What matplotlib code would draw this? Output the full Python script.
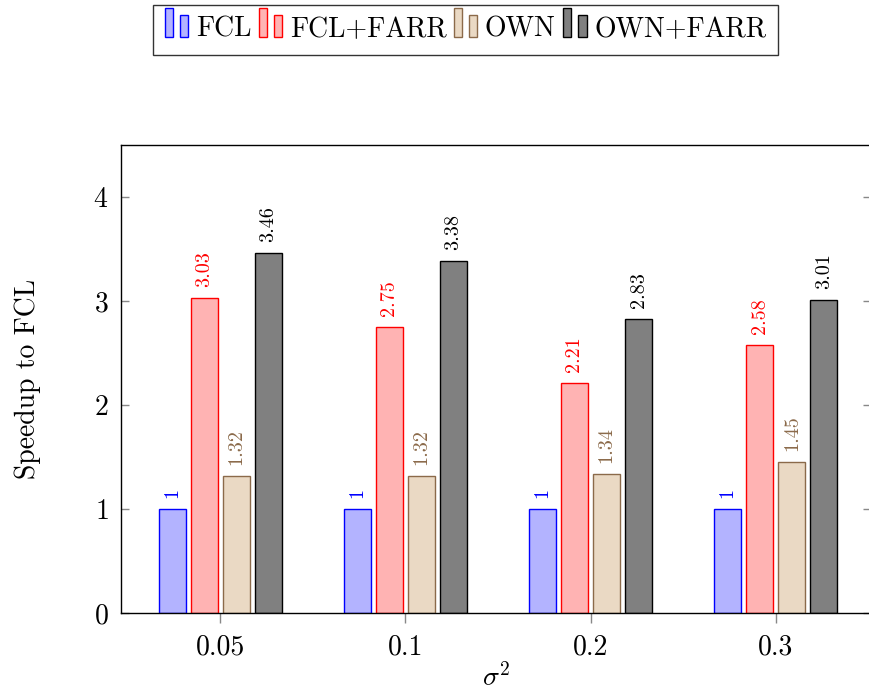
import numpy as np
import matplotlib
matplotlib.use("Agg")
import matplotlib.pyplot as plt
from matplotlib.patches import Rectangle
from matplotlib.legend_handler import HandlerBase

plt.rcParams['font.family'] = 'serif'
plt.rcParams['font.serif'] = ['cmr10']
plt.rcParams['mathtext.fontset'] = 'cm'
plt.rcParams['axes.formatter.use_mathtext'] = True

# data
sigmas = ["0.05", "0.1", "0.2", "0.3"]
series = ["FCL", "FCL+FARR", "OWN", "OWN+FARR"]
fcl = [1, 1, 1, 1]
fcl_farr = [3.03, 2.75, 2.21, 2.58]
own = [1.32, 1.32, 1.34, 1.45]
own_farr = [3.46, 3.38, 2.83, 3.01]

BROWN = "#8b6a4a"
faces = ["#b3b3ff", "#ffb3b3", "#ead9c4", "#808080"]
edges = ["blue", "red", BROWN, "black"]


# pgfplots-like legend image: a tall bar next to a shorter one
class TwoBars(HandlerBase):
    def create_artists(self, legend, orig_handle, xdescent, ydescent,
                       width, height, fontsize, trans):
        fc = orig_handle.get_facecolor()
        ec = orig_handle.get_edgecolor()
        bw = width * 0.35
        r1 = Rectangle((-xdescent, 0), bw, height * 1.5, facecolor=fc,
                       edgecolor=ec, lw=1.0, transform=trans)
        r2 = Rectangle((-xdescent + width * 0.68, 0), bw, height * 1.15,
                       facecolor=fc, edgecolor=ec, lw=1.0, transform=trans)
        return [r1, r2]


fig = plt.figure(figsize=(8.69, 6.96), dpi=100)
ax = fig.add_axes([121 / 869, 83 / 696, 750 / 869, 468 / 696])

x = np.arange(len(sigmas))
step = 0.173
width = 0.146
handles = []
for i, vals in enumerate([fcl, fcl_farr, own, own_farr]):
    pos = x + (i - 1.5) * step
    bars = ax.bar(pos, vals, width, color=faces[i], edgecolor=edges[i],
                  linewidth=1.0, label=series[i], zorder=2)
    handles.append(bars[0])
    for xp, v in zip(pos, vals):
        ax.annotate("%g" % v, (xp, v), xytext=(0, 8), textcoords="offset points",
                    rotation=90, ha="center", va="bottom", fontsize=14.5,
                    color=edges[i])

ax.set_xlim(-0.535, 3.514)
ax.set_ylim(0, 4.5)
ax.set_xticks(x)
ax.set_xticklabels(sigmas)
ax.set_yticks([0, 1, 2, 3, 4])

ax.tick_params(axis="y", direction="in", length=6, width=1, color="#888888",
               left=True, right=True, labelsize=20, pad=9)
ax.tick_params(axis="x", direction="out", length=7, width=1, color="#888888",
               top=False, labelsize=20, pad=8)
for s in ax.spines.values():
    s.set_linewidth(1.0)

ax.set_ylabel("Speedup to FCL", fontsize=20)
ax.yaxis.set_label_coords(-0.106, 0.5)
ax.set_xlabel(r"$\sigma^2$", fontsize=20)
ax.xaxis.set_label_coords(0.5, -0.108)

leg = fig.legend(handles, series, loc="upper center",
                 bbox_to_anchor=(465.5 / 869, 1 - 5 / 696), ncol=4,
                 fontsize=20, frameon=True, fancybox=False, edgecolor="black",
                 handler_map={matplotlib.container.BarContainer: TwoBars(),
                              Rectangle: TwoBars()},
                 handlelength=0.83, handletextpad=0.3, columnspacing=0.25,
                 borderpad=0.42, borderaxespad=0)
leg.get_frame().set_linewidth(1.0)

fig.savefig("out.png", dpi=100)
